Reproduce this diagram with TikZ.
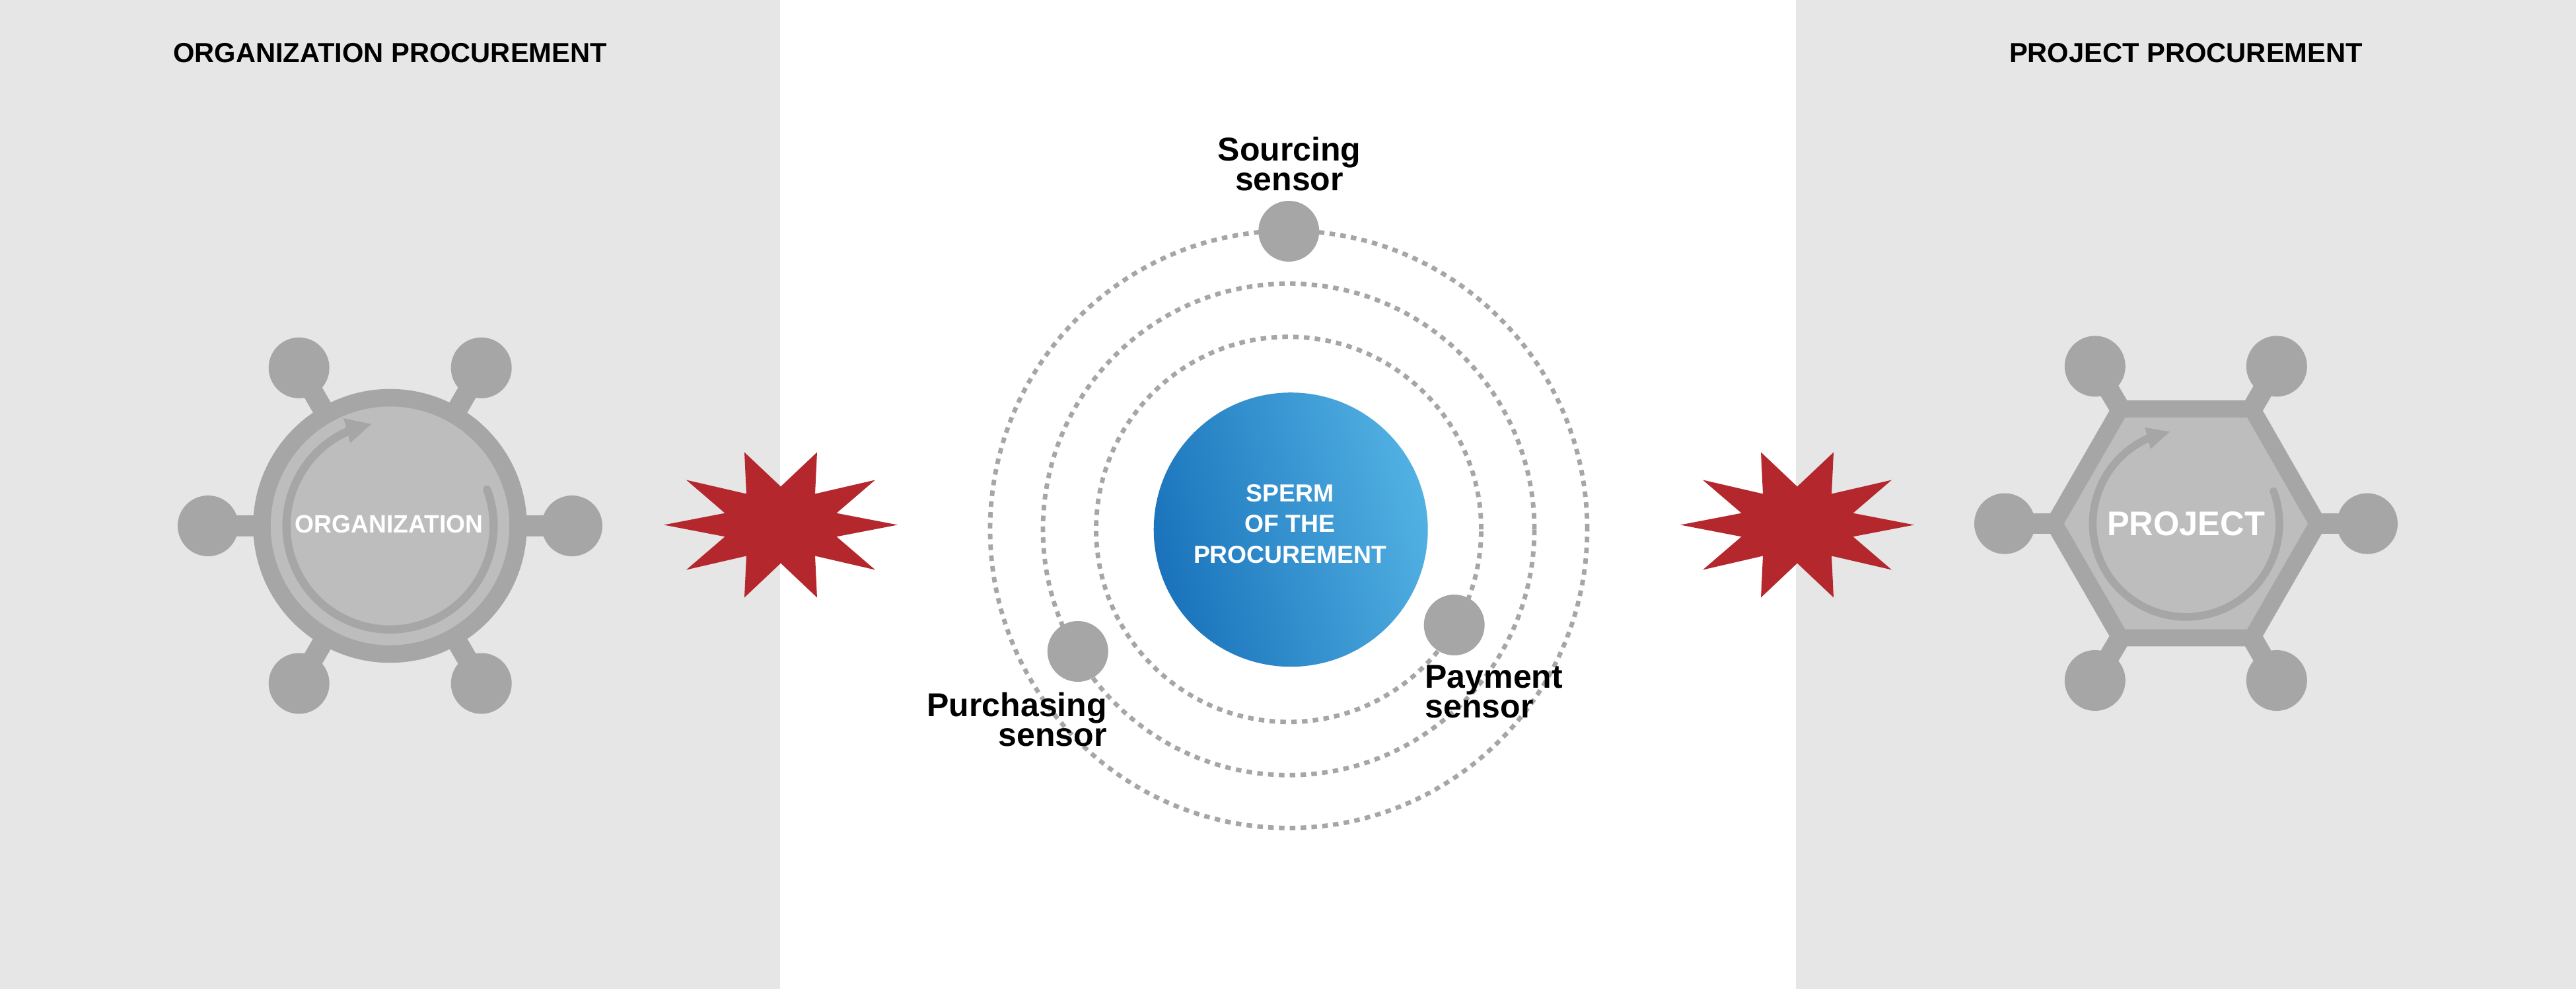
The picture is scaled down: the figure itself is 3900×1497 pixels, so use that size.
\documentclass[tikz,border=0pt]{standalone}
\usepackage{fontspec}
\setmainfont{Liberation Sans}
\usetikzlibrary{calc}
\definecolor{panelgray}{HTML}{E6E6E6}
\definecolor{darkgray}{HTML}{A6A6A6}
\definecolor{lightgray}{HTML}{BDBDBD}
\definecolor{burstred}{HTML}{B3272D}
\definecolor{blueA}{HTML}{1A73BB}
\definecolor{blueB}{HTML}{52B1E3}
\tikzset{
  x=0.25pt,y=-0.25pt,
  panel/.style={fill=panelgray,draw=none},
  dot/.style={circle,fill=darkgray,draw=none,minimum size=23pt,inner sep=0pt,outer sep=0pt},
  spoke/.style={draw=darkgray,line width=7.75pt,shorten <=-1pt,shorten >=-1pt},
  orbit/.style={circle,draw=darkgray,line width=1.7pt,dash pattern=on 2.1pt off 2pt,inner sep=0pt,outer sep=0pt},
  burst/.style={fill=burstred,draw=none},
  titletext/.style={anchor=base,inner sep=0pt,text=black,font=\fontsize{10.42pt}{12pt}\selectfont\bfseries},
  sensortext/.style={inner sep=0pt,text=black,font=\fontsize{12.5pt}{11.25pt}\selectfont\bfseries},
  whitetext/.style={anchor=base,inner sep=0pt,text=white},
}
\newcommand{\burstat}[1]{%
  \fill[burst,shift={(#1,794.5)}] (-177,0)--(-84.5,-17.8)--(-143,-68)--(-52,-47)--(-55,-110)--(0,-58)--(55,-110)--(52,-47)--(143,-68)--(84.5,-17.8)--(177,0)--(84.5,17.8)--(143,68)--(52,47)--(55,110)--(0,58)--(-55,110)--(-52,47)--(-143,68)--(-84.5,17.8)--cycle;}
\begin{document}
\begin{tikzpicture}
\useasboundingbox (0,0) rectangle (3900,1497);
\fill[white] (0,0) rectangle (3900,1497);
\fill[panel] (0,0) rectangle (1181,1497);
\fill[panel] (2719,0) rectangle (3900,1497);

% titles
\node[titletext] (t1) at (590.5,95) {ORGANIZATION PROCUREMENT};
\node[titletext] (t2) at (3309.5,95) {PROJECT PROCUREMENT};

% organization
\node[circle,fill=lightgray,draw=darkgray,line width=6.625pt,minimum size=97pt,inner sep=0pt] (org) at (590.5,796) {};
\node[dot] (oL) at (315,796) {};
\node[dot] (oR) at (866,796) {};
\node[dot] (oTL) at (452.7,556.8) {};
\node[dot] (oTR) at (728.7,556.8) {};
\node[dot] (oBL) at (452.7,1034.5) {};
\node[dot] (oBR) at (728.7,1034.5) {};
\foreach \n in {oL,oR,oTL,oTR,oBL,oBR} \draw[spoke] (org) -- (\n);
\draw[darkgray,line width=3.1pt,line cap=round] ($(org)+(20.5:39.2pt)$) arc[start angle=20.5,delta angle=-266.1,radius=39.2pt];
\coordinate (oH1) at (520.2,633.1);
\coordinate (oH2) at (562,642);
\coordinate (oH3) at (530.3,670.5);
\fill[darkgray] (oH1) -- (oH2) -- (oH3) -- cycle;
\node[whitetext,font=\fontsize{9.5pt}{11pt}\selectfont\bfseries] (orgT) at (589,806) {\scalebox{0.98}[1]{ORGANIZATION}};

% project
\coordinate (pc) at (3309.6,792.6);
\coordinate (hL) at (3110,792.6);
\coordinate (hTL) at (3210,619);
\coordinate (hTR) at (3409.5,619);
\coordinate (hR) at (3509,792.6);
\coordinate (hBR) at (3409.5,965.5);
\coordinate (hBL) at (3210,965.5);
\node[dot] (pL) at (3035,792.6) {};
\node[dot] (pR) at (3584,792.6) {};
\node[dot] (pTL) at (3171.8,554.4) {};
\node[dot] (pTR) at (3446.8,554.4) {};
\node[dot] (pBL) at (3171.8,1030) {};
\node[dot] (pBR) at (3446.8,1030) {};
\draw[spoke] (hL) -- (pL);
\draw[spoke] (hR) -- (pR);
\draw[spoke] (hTL) -- (pTL);
\draw[spoke] (hTR) -- (pTR);
\draw[spoke] (hBL) -- (pBL);
\draw[spoke] (hBR) -- (pBR);
\draw[fill=lightgray,draw=darkgray,line width=6.42pt,miter limit=10] (hL) -- (hTL) -- (hTR) -- (hR) -- (hBR) -- (hBL) -- cycle;
\draw[darkgray,line width=2.9pt,line cap=round] ($(pc)+(20.3:35.3pt)$) arc[start angle=20.3,delta angle=-266.1,radius=35.3pt];
\coordinate (pH1) at (3247.1,646.8);
\coordinate (pH2) at (3284.8,653.6);
\coordinate (pH3) at (3255.8,679.7);
\fill[darkgray] (pH1) -- (pH2) -- (pH3) -- cycle;
\node[whitetext,font=\fontsize{12.9pt}{15pt}\selectfont\bfseries] (prjT) at (3309.5,810) {\scalebox{0.98}[1]{PROJECT}};

% orbits
\node[orbit,minimum size=226pt] (r3) at (1951,801.3) {};
\node[orbit,minimum size=186pt] (r2) at (1951,801.3) {};
\node[orbit,minimum size=145.75pt] (r1) at (1951,801.3) {};

% sperm
\node[circle,minimum size=103.75pt,inner sep=0pt,outer sep=0pt,left color=blueA,right color=blueB,shading angle=105] (sperm) at (1954.2,801.7) {};
\node[whitetext] (spermT1) at (1953.2,759.3) {\fontsize{9.33pt}{11pt}\selectfont\bfseries SPERM};
\node[whitetext] (spermT2) at (1953.2,805.6) {\fontsize{9.33pt}{11pt}\selectfont\bfseries OF THE};
\node[whitetext] (spermT3) at (1953.2,852.3) {\fontsize{9.33pt}{11pt}\selectfont\bfseries PROCUREMENT};

% sensors
\node[dot] (s1) at (1951.2,350) {};
\node[dot] (s2) at (1631.8,986) {};
\node[dot] (s3) at (2201.7,946) {};
\node[sensortext,align=center,anchor=base] (l1) at (1952,288.3) {Sourcing\\sensor};
\node[sensortext,align=right,anchor=base east] (l2) at (1676.6,1129.3) {Purchasing\\sensor};
\node[sensortext,align=left,anchor=base west] (l3) at (2156.8,1086.7) {Payment\\sensor};

% bursts
\burstat{1182}
\burstat{2721}
\end{tikzpicture}
\end{document}
